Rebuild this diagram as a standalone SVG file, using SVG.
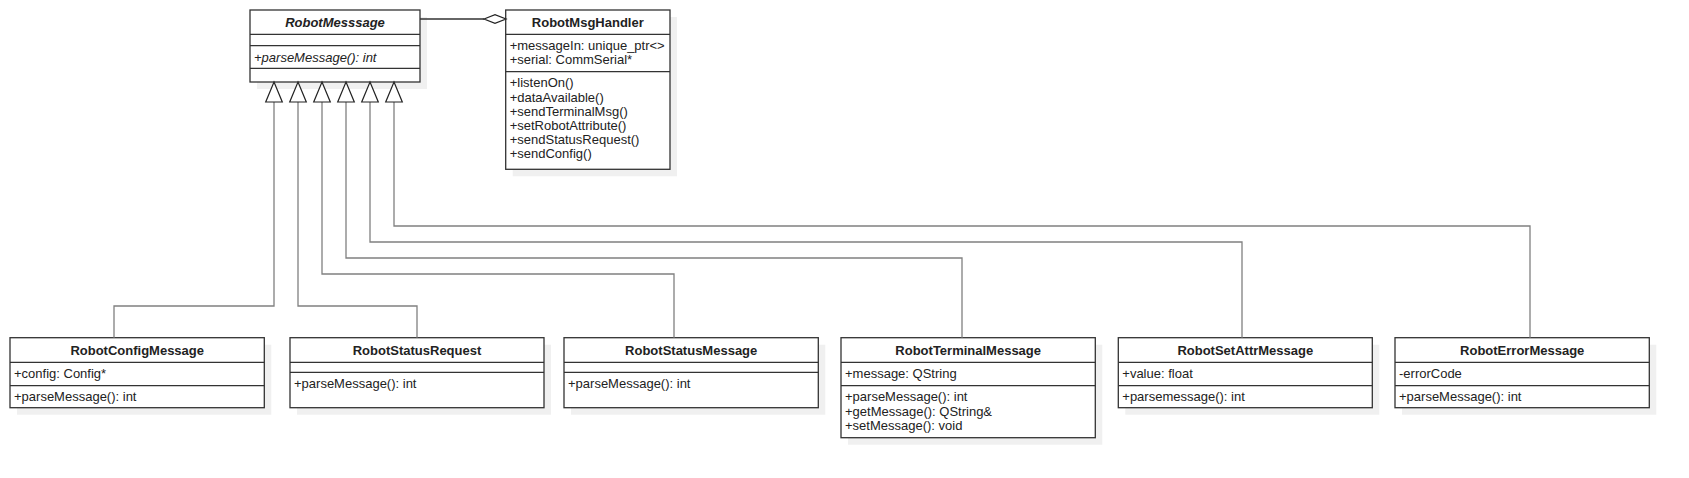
<svg xmlns="http://www.w3.org/2000/svg" width="1689" height="478" viewBox="0 0 1689 478">
<style>
.sh{fill:#f0f0f0;stroke:none}
.box{fill:#ffffff;stroke:#333333;stroke-width:1.3}
.sep{stroke:#333333;stroke-width:1.3;fill:none}
.t{font-family:"Liberation Sans",Arial,sans-serif;font-size:13px;fill:#222222}
.h{font-family:"Liberation Sans",Arial,sans-serif;font-size:13px;font-weight:bold;fill:#222222;text-anchor:middle}
.i{font-style:italic}
.gen{fill:none;stroke:#808080;stroke-width:1.3}
.tri{fill:#ffffff;stroke:#222222;stroke-width:1.2}
.agg{fill:none;stroke:#333333;stroke-width:1.3}
</style>
<rect width="1689" height="478" fill="#ffffff"/>
<g id="RobotMesssage">
<rect class="sh" x="257" y="17" width="170" height="72"/>
<rect class="box" x="250" y="10" width="170" height="72"/>
<path class="sep" d="M250,34.3 H420 M250,45.7 H420 M250,68.3 H420"/>
<text class="h i" x="335" y="27">RobotMesssage</text>
<text class="t i" x="254" y="61.5">+parseMessage(): int</text>
</g>
<g id="RobotMsgHandler">
<rect class="sh" x="512.7" y="17" width="164.3" height="159.3"/>
<rect class="box" x="505.7" y="10" width="164.3" height="159.3"/>
<path class="sep" d="M505.7,34.3 H670 M505.7,71.7 H670"/>
<text class="h" x="587.8" y="27">RobotMsgHandler</text>
<text class="t" x="509.7" y="50">+messageIn: unique_ptr&lt;&gt;</text>
<text class="t" x="509.7" y="64.3">+serial: CommSerial*</text>
<text class="t" x="509.7" y="87.3">+listenOn()</text>
<text class="t" x="509.7" y="101.5">+dataAvailable()</text>
<text class="t" x="509.7" y="115.7">+sendTerminalMsg()</text>
<text class="t" x="509.7" y="129.9">+setRobotAttribute()</text>
<text class="t" x="509.7" y="144.1">+sendStatusRequest()</text>
<text class="t" x="509.7" y="158.3">+sendConfig()</text>
</g>
<g id="RobotConfigMessage">
<rect class="sh" x="17" y="344.7" width="254.3" height="70"/>
<rect class="box" x="10" y="337.7" width="254.3" height="70"/>
<path class="sep" d="M10,362.3 H264.3 M10,385.7 H264.3"/>
<text class="h" x="137.2" y="355">RobotConfigMessage</text>
<text class="t" x="14" y="378">+config: Config*</text>
<text class="t" x="14" y="401.3">+parseMessage(): int</text>
</g>
<g id="RobotStatusRequest">
<rect class="sh" x="297" y="344.7" width="254" height="70"/>
<rect class="box" x="290" y="337.7" width="254" height="70"/>
<path class="sep" d="M290,362.3 H544 M290,372.3 H544"/>
<text class="h" x="417" y="355">RobotStatusRequest</text>
<text class="t" x="294" y="388">+parseMessage(): int</text>
</g>
<g id="RobotStatusMessage">
<rect class="sh" x="571" y="344.7" width="254.3" height="70"/>
<rect class="box" x="564" y="337.7" width="254.3" height="70"/>
<path class="sep" d="M564,362.3 H818.3 M564,372.3 H818.3"/>
<text class="h" x="691.2" y="355">RobotStatusMessage</text>
<text class="t" x="568" y="388">+parseMessage(): int</text>
</g>
<g id="RobotTerminalMessage">
<rect class="sh" x="848" y="344.7" width="254.3" height="100"/>
<rect class="box" x="841" y="337.7" width="254.3" height="100"/>
<path class="sep" d="M841,362.3 H1095.3 M841,385.7 H1095.3"/>
<text class="h" x="968.2" y="355">RobotTerminalMessage</text>
<text class="t" x="845" y="378">+message: QString</text>
<text class="t" x="845" y="401.3">+parseMessage(): int</text>
<text class="t" x="845" y="415.5">+getMessage(): QString&amp;</text>
<text class="t" x="845" y="429.7">+setMessage(): void</text>
</g>
<g id="RobotSetAttrMessage">
<rect class="sh" x="1125.3" y="344.7" width="254" height="70"/>
<rect class="box" x="1118.3" y="337.7" width="254" height="70"/>
<path class="sep" d="M1118.3,362.3 H1372.3 M1118.3,385.7 H1372.3"/>
<text class="h" x="1245.3" y="355">RobotSetAttrMessage</text>
<text class="t" x="1122.3" y="378">+value: float</text>
<text class="t" x="1122.3" y="401.3">+parsemessage(): int</text>
</g>
<g id="RobotErrorMessage">
<rect class="sh" x="1402" y="344.7" width="254.3" height="70"/>
<rect class="box" x="1395" y="337.7" width="254.3" height="70"/>
<path class="sep" d="M1395,362.3 H1649.3 M1395,385.7 H1649.3"/>
<text class="h" x="1522.2" y="355">RobotErrorMessage</text>
<text class="t" x="1399" y="378">-errorCode</text>
<text class="t" x="1399" y="401.3">+parseMessage(): int</text>
</g>
<g id="connectors">
<path class="gen" d="M274,102 V306 H114 V337.7"/>
<path class="gen" d="M298,102 V306 H417 V337.7"/>
<path class="gen" d="M322,102 V274 H674 V337.7"/>
<path class="gen" d="M346,102 V258 H962 V337.7"/>
<path class="gen" d="M370,102 V242 H1242 V337.7"/>
<path class="gen" d="M394,102 V226 H1530 V337.7"/>
<polygon class="tri" points="274,82 282.3,102 265.7,102"/>
<polygon class="tri" points="298,82 306.3,102 289.7,102"/>
<polygon class="tri" points="322,82 330.3,102 313.7,102"/>
<polygon class="tri" points="346,82 354.3,102 337.7,102"/>
<polygon class="tri" points="370,82 378.3,102 361.7,102"/>
<polygon class="tri" points="394,82 402.3,102 385.7,102"/>
<path class="agg" d="M420,19 H484"/>
<polygon class="tri" points="484,19 495,14.7 506,19 495,23.3"/>
</g>
</svg>
